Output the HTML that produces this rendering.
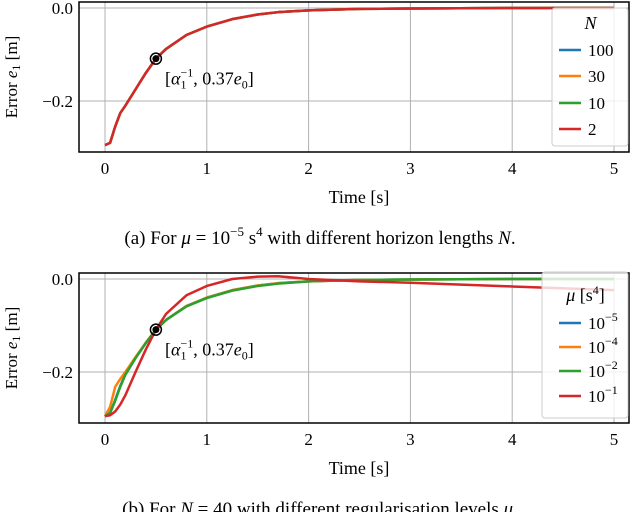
<!DOCTYPE html>
<html><head><meta charset="utf-8"><style>
body{margin:0;background:#fff;width:640px;height:512px;overflow:hidden}
svg{font-family:"Liberation Serif",serif}
</style></head><body>
<svg id="c" width="640" height="512"></svg>
<script>
const times=[0,0.05,0.1,0.15,0.2,0.3,0.4,0.5,0.6,0.8,1,1.25,1.5,1.7,2,2.5,3,4,5];
const topLabels=["100","30","10","2"];
const topN100=[-0.295,-0.29,-0.255,-0.226,-0.21,-0.175,-0.14,-0.109,-0.088,-0.058,-0.04,-0.024,-0.014,-0.009,-0.005,-0.002,-0.001,0,0];
const topN30=[-0.295,-0.29,-0.255,-0.226,-0.21,-0.175,-0.14,-0.109,-0.088,-0.058,-0.04,-0.024,-0.014,-0.009,-0.005,-0.002,-0.001,0,0];
const topN10=[-0.295,-0.29,-0.255,-0.226,-0.21,-0.175,-0.14,-0.109,-0.088,-0.058,-0.04,-0.024,-0.014,-0.009,-0.005,-0.002,-0.001,0,0];
const topN2=[-0.295,-0.29,-0.255,-0.226,-0.21,-0.175,-0.14,-0.109,-0.088,-0.058,-0.04,-0.024,-0.014,-0.009,-0.005,-0.002,-0.001,0,0];
const botLabels=["−5","−4","−2","−1"];
const botMu5=[-0.295,-0.288,-0.26,-0.23,-0.205,-0.17,-0.138,-0.109,-0.088,-0.058,-0.04,-0.024,-0.014,-0.009,-0.005,-0.002,-0.001,0,0];
const botMu4=[-0.295,-0.275,-0.232,-0.215,-0.2,-0.168,-0.137,-0.109,-0.088,-0.058,-0.04,-0.024,-0.014,-0.009,-0.005,-0.002,-0.001,0,0];
const botMu2=[-0.295,-0.288,-0.262,-0.232,-0.206,-0.17,-0.138,-0.109,-0.088,-0.059,-0.041,-0.025,-0.015,-0.01,-0.005,-0.002,-0.001,0,0];
const botMu1=[-0.295,-0.293,-0.285,-0.27,-0.25,-0.2,-0.152,-0.109,-0.075,-0.035,-0.015,0.0,0.005,0.006,0.0,-0.005,-0.008,-0.016,-0.024];
const xTicks=[0,1,2,3,4,5];
const yTicks=[0,-0.2];
const colors=["#1f77b4","#ff7f0e","#2ca02c","#d62728"];
const NS="http://www.w3.org/2000/svg";
const svg=document.getElementById('c');
function mk(t,a,p){const e=document.createElementNS(NS,t);for(const k in a)e.setAttribute(k,a[k]);(p||svg).appendChild(e);return e;}
function panel(oy,series,labels,title,bx,bt,bb,legY,legTitle,name){
  const g=mk('g',{});
  
  
  const L=79,R=629,T=oy+2,B=oy+152;
  const X=v=>105+v*101.8, Y=v=>oy+8-v*465;
  xTicks.forEach(t=>{const l=mk('line',{x1:X(t),x2:X(t),y1:T,y2:B,stroke:'#b0b0b0','stroke-width':1},g);
    const tx=mk('text',{x:X(t),y:B+22,'text-anchor':'middle','font-size':17},g);tx.textContent=t;});
  yTicks.forEach(t=>{const l=mk('line',{x1:L,x2:R,y1:Y(t),y2:Y(t),stroke:'#b0b0b0','stroke-width':1},g);
    const tx=mk('text',{x:L-6,y:Y(t)+6,'text-anchor':'end','font-size':17},g);tx.textContent=(t===0?'0.0':'−0.2');});
  series.forEach((s,i)=>{const p=mk('polyline',{points:s.map((v,j)=>X(times[j])+','+Y(v)).join(' '),fill:'none',stroke:colors[i],'stroke-width':2.5,'stroke-linejoin':'round'},g);
    });
  const fr=mk('rect',{x:L,y:T,width:R-L,height:B-T,fill:'none',stroke:'#000','stroke-width':1.5},g);
  const m1=mk('circle',{cx:X(0.5),cy:Y(-0.109),r:5.5,fill:'none',stroke:'#000','stroke-width':1.5},g);
  const m2=mk('circle',{cx:X(0.5),cy:Y(-0.109),r:3.5,fill:'#000'},g);
  const an=mk('text',{x:165,y:Y(-0.109)+26,'font-size':18},g);
  an.innerHTML='[<tspan font-style="italic">α</tspan><tspan font-size="12" dy="4">1</tspan><tspan font-size="12" dy="-12" dx="-6">−1</tspan><tspan dy="8">, 0.37</tspan><tspan font-style="italic">e</tspan><tspan font-size="12" dy="4">0</tspan><tspan dy="-4">]</tspan>';
  const lg=mk('rect',{x:bx,y:bt,width:R-bx-1,height:bb-bt,fill:'#fff','fill-opacity':0.8,stroke:'#ccc',rx:3},g);
  const lt=mk('text',{x:(bx+R)/2,y:legY[0]+6,'text-anchor':'middle','font-size':18},g);lt.innerHTML=legTitle;
  labels.forEach((lb,i)=>{const y=legY[i+1];
    const l=mk('line',{x1:559,x2:581,y1:y,y2:y,stroke:colors[i],'stroke-width':2.5},g);
    const t=mk('text',{x:588,y:y+6,'font-size':17},g);
    t.innerHTML=lb.startsWith('−')?'10<tspan font-size="12" dy="-8">'+lb+'</tspan>':lb;});
  const yl=mk('text',{x:0,y:0,'font-size':17,'text-anchor':'middle',transform:'translate(17,'+(oy+77)+') rotate(-90)'},g);
  yl.innerHTML='Error <tspan font-style="italic">e</tspan><tspan font-size="12" dy="3">1</tspan><tspan dy="-3"> [m]</tspan>';
  const xl=mk('text',{x:359,y:B+51,'text-anchor':'middle','font-size':18},g);xl.textContent='Time [s]';
  const cp=mk('text',{x:320,y:B+92,'text-anchor':'middle','font-size':19},g);cp.innerHTML=title;
}
panel(0,[topN100,topN30,topN10,topN2],topLabels,'(a) For <tspan font-style="italic">μ</tspan> = 10<tspan font-size="13" dy="-8">−5</tspan><tspan dy="8"> s</tspan><tspan font-size="13" dy="-8">4</tspan><tspan dy="8"> with different horizon lengths </tspan><tspan font-style="italic">N</tspan>.',552,8,146,[23,50,76,103,129],'<tspan font-style="italic">N</tspan>','panel-a');
panel(271,[botMu5,botMu4,botMu2,botMu1],botLabels,'(b) For <tspan font-style="italic">N</tspan> = 40 with different regularisation levels <tspan font-style="italic">μ</tspan>.',542,272,418,[295,323,347,371,396],'<tspan font-style="italic">μ</tspan> [s<tspan font-size="12" dy="-7">4</tspan><tspan dy="7">]</tspan>','panel-b');
</script>
</body></html>
